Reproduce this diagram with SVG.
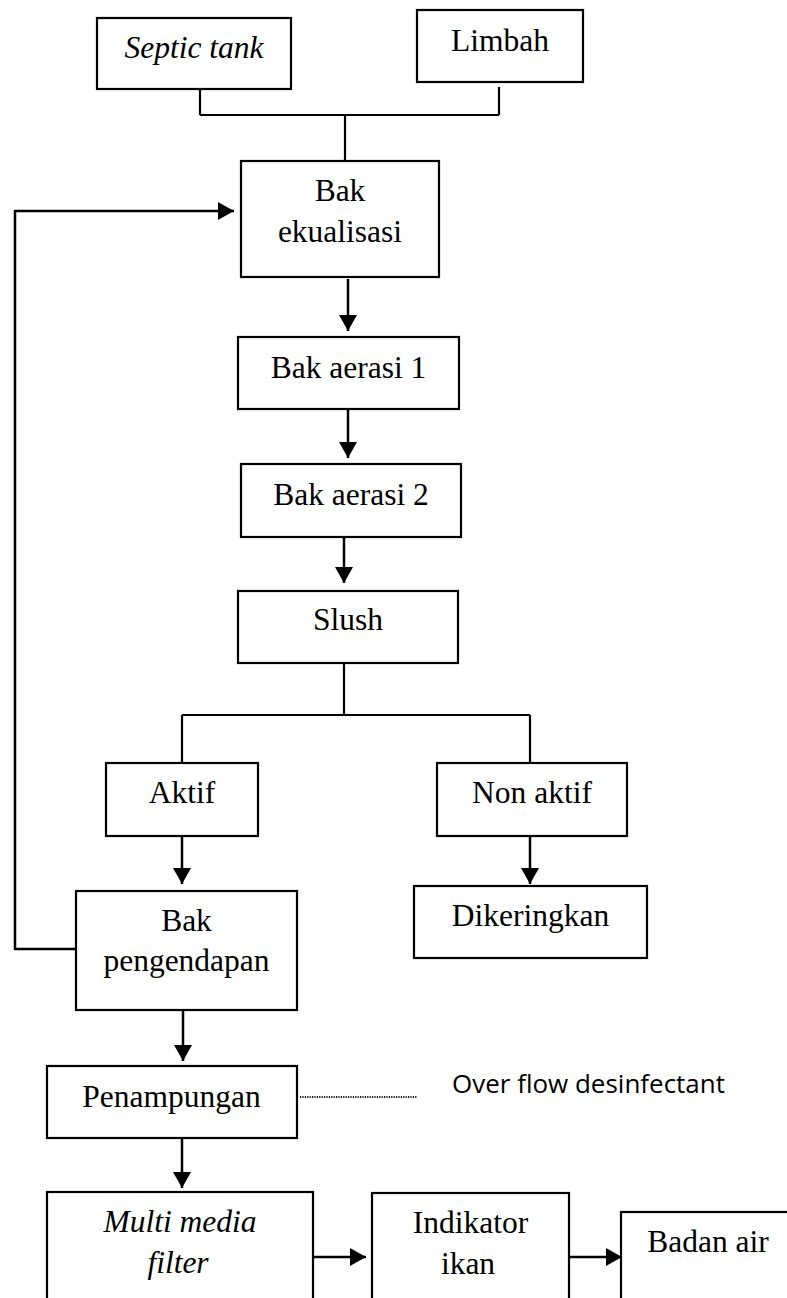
<svg xmlns="http://www.w3.org/2000/svg" width="787" height="1298" viewBox="0 0 787 1298">
  <defs>
    <style>
      .box { fill: #ffffff; stroke: #000000; stroke-width: 2.2; }
      .lbl { font-family: "Liberation Serif", "Times New Roman", serif; font-size: 31.5px; fill: #000000; text-anchor: middle; }
      .it { font-style: italic; }
      .note { font-family: "Open Sans", "Liberation Sans", sans-serif; font-size: 26px; fill: #000000; }
      .wire { fill: none; stroke: #000000; stroke-width: 2.2; }
      .flow { fill: none; stroke: #000000; stroke-width: 2.5; marker-end: url(#head); }
      .dots { fill: none; stroke: #111111; stroke-width: 1.8; stroke-dasharray: 1.2 1.2; }
    </style>
    <marker id="head" markerUnits="userSpaceOnUse" viewBox="0 0 16 18" markerWidth="16" markerHeight="18" refX="16" refY="9" orient="auto">
      <path d="M0,0 L16,9 L0,18 Z" fill="#000000"/>
    </marker>
  </defs>

  <rect width="787" height="1298" fill="#ffffff"/>

  <!-- connectors -->
  <g id="connectors">
    <path class="wire" d="M200,88 V115"/>
    <path class="wire" d="M499,87 V115"/>
    <path class="wire" d="M200,115 H499"/>
    <path class="wire" d="M345,115 V161"/>
    <path class="flow" d="M348,279 V331"/>
    <path class="flow" d="M348,409 V458"/>
    <path class="flow" d="M344,537 V583"/>
    <path class="wire" d="M344,663 V715"/>
    <path class="wire" d="M182,715 H530"/>
    <path class="wire" d="M182,715 V763"/>
    <path class="wire" d="M530,715 V763"/>
    <path class="flow" d="M182,836 V884"/>
    <path class="flow" d="M530,836 V884"/>
    <path class="flow" d="M76,949 H15 V211 H234"/>
    <path class="flow" d="M183,1010 V1061"/>
    <path class="flow" d="M182,1138 V1188"/>
    <path class="dots" d="M300,1097 H417"/>
    <path class="flow" d="M312,1257 H366"/>
    <path class="flow" d="M569,1257 H622"/>
  </g>

  <g id="septic-tank">
    <rect class="box" x="97" y="18" width="194" height="71"/>
    <text class="lbl it" x="194" y="57.5">Septic tank</text>
  </g>

  <g id="limbah">
    <rect class="box" x="417" y="10" width="166" height="72"/>
    <text class="lbl" x="500" y="51">Limbah</text>
  </g>

  <g id="bak-ekualisasi">
    <rect class="box" x="241" y="161" width="198" height="116"/>
    <text class="lbl" x="340" y="201">Bak</text>
    <text class="lbl" x="340" y="242">ekualisasi</text>
  </g>

  <g id="bak-aerasi-1">
    <rect class="box" x="238" y="337" width="221" height="72"/>
    <text class="lbl" x="348.5" y="378">Bak aerasi 1</text>
  </g>

  <g id="bak-aerasi-2">
    <rect class="box" x="241" y="464" width="220" height="73"/>
    <text class="lbl" x="351" y="505">Bak aerasi 2</text>
  </g>

  <g id="slush">
    <rect class="box" x="238" y="591" width="220" height="72"/>
    <text class="lbl" x="348" y="630">Slush</text>
  </g>

  <g id="aktif">
    <rect class="box" x="106" y="763" width="152" height="73"/>
    <text class="lbl" x="182" y="803">Aktif</text>
  </g>

  <g id="non-aktif">
    <rect class="box" x="437" y="763" width="190" height="73"/>
    <text class="lbl" x="532" y="803">Non aktif</text>
  </g>

  <g id="bak-pengendapan">
    <rect class="box" x="76" y="891" width="221" height="119"/>
    <text class="lbl" x="186.5" y="931">Bak</text>
    <text class="lbl" x="186.5" y="971">pengendapan</text>
  </g>

  <g id="dikeringkan">
    <rect class="box" x="414" y="886" width="233" height="72"/>
    <text class="lbl" x="530.5" y="926">Dikeringkan</text>
  </g>

  <g id="penampungan">
    <rect class="box" x="47" y="1066" width="250" height="72"/>
    <text class="lbl" x="171.5" y="1107">Penampungan</text>
  </g>

  <g id="overflow-note">
    <text class="note" x="452" y="1093" textLength="273" lengthAdjust="spacingAndGlyphs">Over flow desinfectant</text>
  </g>

  <g id="multi-media-filter">
    <rect class="box" x="47" y="1192" width="266" height="120"/>
    <text class="lbl it" x="180" y="1232">Multi media</text>
    <text class="lbl it" x="178" y="1273">filter</text>
  </g>

  <g id="indikator-ikan">
    <rect class="box" x="372" y="1193" width="197" height="120"/>
    <text class="lbl" x="470.5" y="1233">Indikator</text>
    <text class="lbl" x="468" y="1274">ikan</text>
  </g>

  <g id="badan-air">
    <rect class="box" x="621" y="1212" width="200" height="100"/>
    <text class="lbl" x="708" y="1252">Badan air</text>
  </g>
</svg>
